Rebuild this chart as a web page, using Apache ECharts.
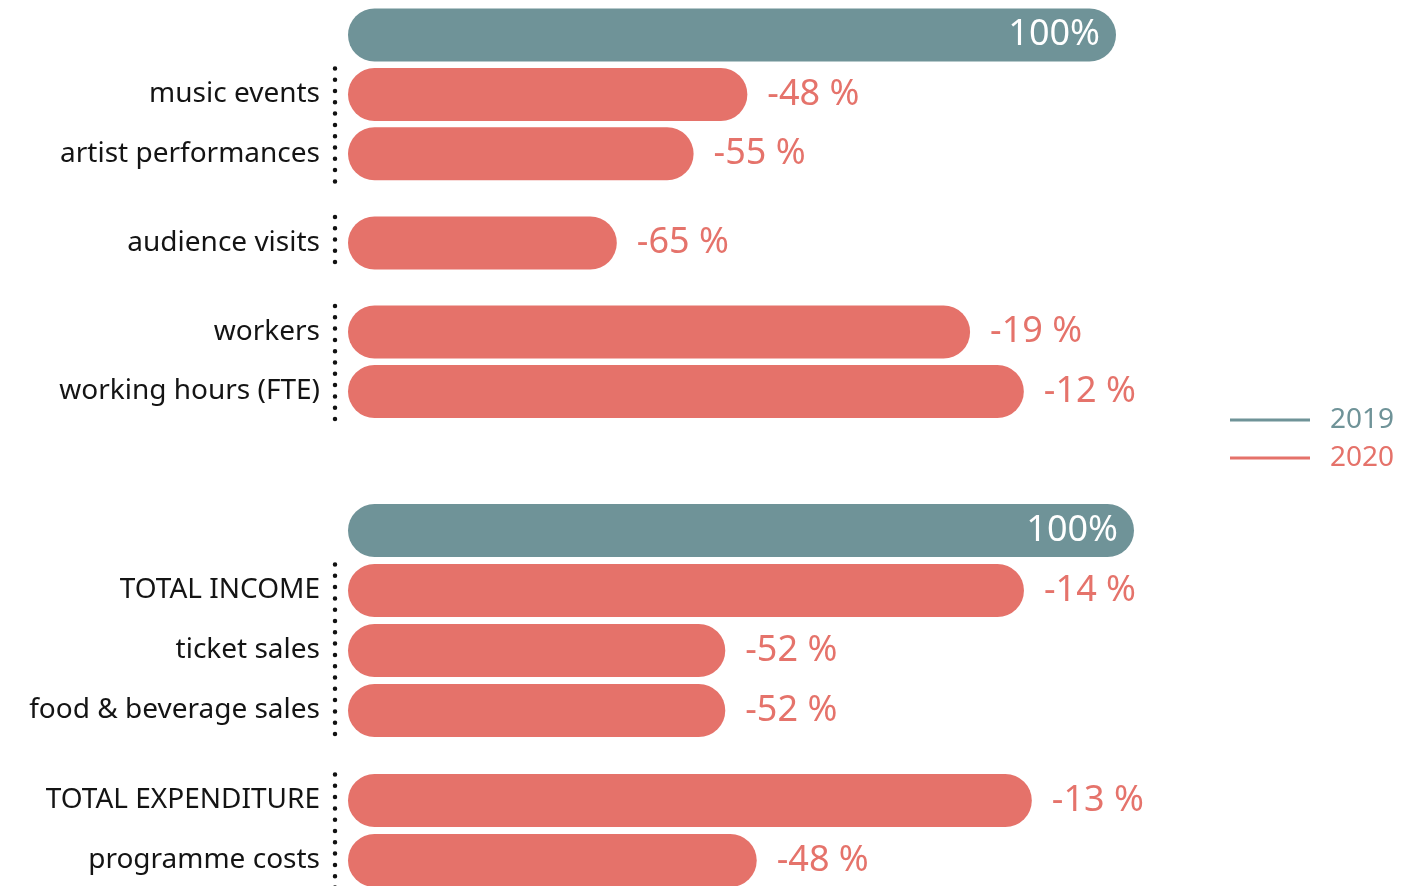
<!DOCTYPE html>
<html>
<head>
<meta charset="utf-8">
<title>Change 2019–2020</title>
<script src="https://cdn.jsdelivr.net/npm/echarts@6/dist/echarts.min.js"></script>
<style>
  html, body { margin: 0; padding: 0; background: #ffffff; }
  #chart { width: 1408px; height: 886px; }
</style>
</head>
<body>
<div id="chart"></div>
<script>
// 2019 is the reference year (index 100); 2020 bars show the change against it.
const baselineValue = 100;
const seriesNames = ['2019', '2020'];

const activityCategories = ['music events', 'artist performances', 'audience visits', 'workers', 'working hours (FTE)'];
const activityChange = [-48, -55, -65, -19, -12];

const financeCategories = ['TOTAL INCOME', 'ticket sales', 'food & beverage sales', 'TOTAL EXPENDITURE', 'programme costs'];
const financeChange = [-14, -52, -52, -13, -48];

// Row layout: slot index of each row on its category axis (slot 0 holds the 2019 bar),
// and the runs of rows that share one dotted bracket.
const activitySlots = [2, 4, 7, 10, 12];
const activitySlotCount = 13;
const activityBrackets = [[2, 4], [7, 7], [10, 12]];
const financeSlots = [2, 4, 6, 9, 11];
const financeSlotCount = 12;
const financeBrackets = [[2, 6], [9, 11]];

const COLOR_2019 = '#6F9398';
const COLOR_2020 = '#E5726A';
const LABEL_2020 = '#E5736B';
const TEXT = '#141414';
const FONT = '"Noto Sans", "DejaVu Sans", sans-serif';
const BAR = 53;

function axisLabels(categories, slots, count) {
  const out = new Array(count).fill('');
  slots.forEach((s, i) => { out[s] = categories[i]; });
  return out;
}

function buildPanel(gridIndex, categories, changes, slots, count, brackets) {
  const yAxis = {
    type: 'category',
    gridIndex: gridIndex,
    inverse: true,
    data: axisLabels(categories, slots, count),
    axisLine: { show: false },
    axisTick: { show: false },
    splitLine: { show: false },
    axisLabel: {
      interval: 0,
      margin: 28,
      color: TEXT,
      fontSize: 28,
      fontFamily: FONT
    }
  };
  const xAxis = {
    type: 'value',
    gridIndex: gridIndex,
    min: 0,
    max: baselineValue,
    show: false
  };
  const series = [
    {
      name: seriesNames[0],
      type: 'bar',
      xAxisIndex: gridIndex,
      yAxisIndex: gridIndex,
      clip: false,
      barWidth: BAR,
      barGap: '-100%',
      itemStyle: { color: COLOR_2019, borderRadius: BAR / 2 },
      label: {
        show: true,
        position: 'insideRight',
        distance: 16,
        color: '#ffffff',
        fontSize: 36,
        fontFamily: FONT,
        formatter: p => p.value[0] + '%'
      },
      data: [[baselineValue, 0]]
    },
    {
      name: seriesNames[1],
      type: 'bar',
      xAxisIndex: gridIndex,
      yAxisIndex: gridIndex,
      clip: false,
      barWidth: BAR,
      barGap: '-100%',
      itemStyle: { color: COLOR_2020, borderRadius: BAR / 2 },
      label: {
        show: true,
        position: 'right',
        distance: 20,
        color: LABEL_2020,
        fontSize: 36,
        fontFamily: FONT,
        formatter: p => (p.value[0] - baselineValue) + ' %'
      },
      data: changes.map((c, i) => [baselineValue + c, slots[i]])
    },
    {
      // dotted bracket between the labels and the bars
      type: 'custom',
      xAxisIndex: gridIndex,
      yAxisIndex: gridIndex,
      clip: false,
      silent: true,
      encode: { x: 0, y: [1, 2] },
      data: brackets.map(b => [0, b[0], b[1]]),
      renderItem: (params, api) => {
        const first = api.coord([0, api.value(1)]);
        const last = api.coord([0, api.value(2)]);
        const x = first[0] - 13;
        return {
          type: 'line',
          shape: { x1: x, y1: first[1] - 26, x2: x, y2: last[1] + 28 },
          style: {
            stroke: '#111111',
            lineWidth: 4.5,
            lineCap: 'round',
            lineDash: [0, 11.3]
          }
        };
      }
    }
  ];
  return { xAxis, yAxis, series };
}

const activityPanel = buildPanel(0, activityCategories, activityChange, activitySlots, activitySlotCount, activityBrackets);
const financePanel = buildPanel(1, financeCategories, financeChange, financeSlots, financeSlotCount, financeBrackets);

const chart = echarts.init(document.getElementById('chart'), null, { renderer: 'canvas' });
chart.setOption({
  backgroundColor: '#ffffff',
  animation: false,
  grid: [
    { left: 348, width: 768, top: 20.15, height: 386.1 },
    { left: 348, width: 786, top: 515.5, height: 360 }
  ],
  xAxis: [activityPanel.xAxis, financePanel.xAxis],
  yAxis: [activityPanel.yAxis, financePanel.yAxis],
  legend: {
    orient: 'vertical',
    left: 1230,
    top: 405,
    padding: 0,
    itemWidth: 80,
    itemHeight: 3,
    itemGap: 8,
    icon: 'rect',
    textStyle: { fontSize: 28, fontFamily: FONT, lineHeight: 30, padding: [0, 0, 0, 15] },
    data: [
      { name: seriesNames[0], textStyle: { color: COLOR_2019 } },
      { name: seriesNames[1], textStyle: { color: COLOR_2020 } }
    ]
  },
  series: activityPanel.series.concat(financePanel.series)
});
</script>
</body>
</html>
